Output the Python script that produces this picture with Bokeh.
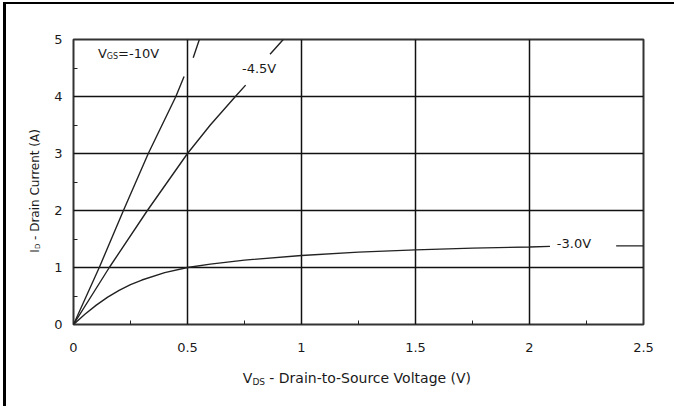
import numpy as np
from bokeh.plotting import figure
from bokeh.layouts import column
from bokeh.models import Range1d, FixedTicker, Label
from bokeh.embed import file_html
from bokeh.resources import INLINE

nan = np.nan
# V_GS = -10V
vds_10 = [0, 0.113, 0.219, 0.328, 0.449, 0.485, nan, 0.525, 0.552]
id_10 = [0, 1.0, 2.0, 3.0, 4.0, 4.35, nan, 4.68, 5.0]
# V_GS = -4.5V
vds_45 = [0, 0.157, 0.324, 0.5, 0.6, 0.71, 0.755, nan, 0.862, 0.92]
id_45 = [0, 1.0, 2.0, 3.0, 3.5, 4.0, 4.2, nan, 4.74, 5.0]
# V_GS = -3.0V
vds_30 = [0, 0.05, 0.1, 0.15, 0.2, 0.25, 0.3, 0.4, 0.5, 0.6, 0.75, 1.0, 1.25, 1.5, 1.75, 2.0, 2.09, nan, 2.38, 2.5]
id_30 = [0, 0.18, 0.34, 0.48, 0.6, 0.7, 0.78, 0.91, 1.0, 1.06, 1.13, 1.21, 1.27, 1.31, 1.34, 1.36, 1.37, nan, 1.38, 1.38]

x_ticks = [0, 0.5, 1, 1.5, 2, 2.5]
x_minor = [0.25, 0.75, 1.25, 1.75, 2.25]
y_ticks = [0, 1, 2, 3, 4, 5]
y_minor = [0.5, 1.5, 2.5, 3.5, 4.5]
x_grid = [0.5, 1, 1.5, 2]
y_grid = [1, 2, 3, 4]

FONT = "DejaVu Sans"
INK = "#1a1a1a"

fig = figure(frame_width=570, frame_height=285,
             min_border_left=67, min_border_right=31, min_border_top=35, min_border_bottom=82,
             x_range=Range1d(0, 2.5), y_range=Range1d(0, 5),
             output_backend="svg", toolbar_location=None)
fig.background_fill_color = "white"
fig.border_fill_color = "white"
fig.outline_line_color = "#333333"
fig.outline_line_width = 2

fig.xaxis.ticker = FixedTicker(ticks=x_ticks, minor_ticks=x_minor)
fig.yaxis.ticker = FixedTicker(ticks=y_ticks, minor_ticks=y_minor)
fig.xgrid.ticker = FixedTicker(ticks=x_grid)
fig.ygrid.ticker = FixedTicker(ticks=y_grid)
for g in (fig.xgrid, fig.ygrid):
    g.grid_line_color = "#111111"
    g.grid_line_width = 1.5
    g.grid_line_alpha = 1.0

for ax in (fig.xaxis, fig.yaxis):
    ax.axis_line_color = None
    ax.major_tick_in = 0
    ax.major_tick_out = 0
    ax.minor_tick_in = 4
    ax.minor_tick_out = 0
    ax.minor_tick_line_color = "#222222"
    ax.minor_tick_line_width = 1
    ax.major_label_text_font = FONT
    ax.major_label_text_font_size = "13px"
    ax.major_label_text_color = INK
fig.xaxis.major_label_standoff = 18
fig.yaxis.major_label_standoff = 11

for xs, ys in ((vds_10, id_10), (vds_45, id_45), (vds_30, id_30)):
    fig.line(xs, ys, line_color="#222222", line_width=1.4)

def lab(x, y, text, size="13px", xo=0, yo=0, angle=0, place="center"):
    fig.add_layout(Label(x=x, y=y, text=text, x_offset=xo, y_offset=yo, angle=angle,
                         text_font=FONT, text_font_size=size, text_color=INK,
                         text_align="left", text_baseline="middle"), place)

# curve labels
lab(0.107, 4.75, "V")
lab(0.107, 4.75, "GS", size="8px", xo=8.9, yo=-3)
lab(0.107, 4.75, "=-10V", xo=20.2)
lab(0.739, 4.49, "-4.5V")
lab(2.12, 1.42, "-3.0V")

# x axis title
lab(0.7425, -0.947, "V", size="14px", place="below")
lab(0.7425, -0.947, "DS", size="9px", xo=9.6, yo=-3.5, place="below")
lab(0.7425, -0.947, "- Drain-to-Source Voltage (V)", size="14px", xo=26.5, place="below")

# y axis title (rotated)
ang = np.pi / 2
lab(-0.169, 1.26, "I", size="12px", angle=ang, place="left")
lab(-0.169, 1.26, "D", size="7px", angle=ang, xo=3, yo=3.6, place="left")
lab(-0.169, 1.26, "- Drain Current (A)", size="12px", angle=ang, yo=12.7, place="left")

p = column(fig, styles={"margin-left": "3px", "margin-top": "2px",
                        "border-left": "3px solid black", "border-top": "2px solid black"})

open("out.html", "w").write(file_html(p, INLINE))
